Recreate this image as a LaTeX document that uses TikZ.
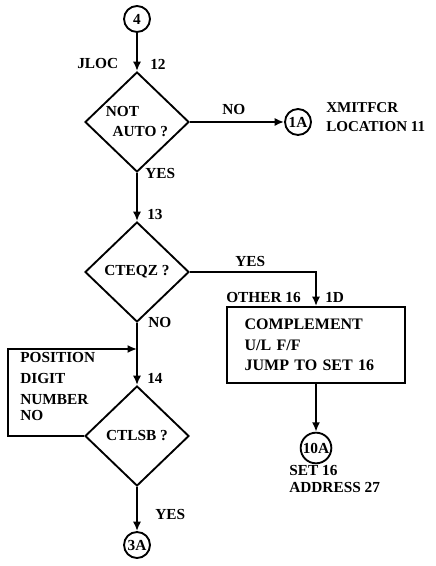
\documentclass[tikz,border=0pt]{standalone}
\usepackage{fontspec}
\setmainfont{Liberation Serif}
\usetikzlibrary{arrows.meta,shapes.geometric}

\begin{document}
\begin{tikzpicture}[
  x=0.75pt,y=-0.75pt,
  conn/.style={line width=1.4pt},
  arr/.style={conn,-{Latex[length=7pt,width=6pt]}},
  decision/.style={diamond,draw,line width=1.4pt,minimum width=78pt,minimum height=75pt,inner sep=0pt,align=left},
  onpage/.style={circle,draw,line width=1.4pt,minimum size=19.5pt,inner sep=0pt},
  process/.style={rectangle,draw,line width=1.4pt,inner xsep=13pt,text width=107pt,minimum height=57pt,align=left},
  lbl/.style={anchor=west,inner sep=0pt,align=left},
  font=\bfseries\fontsize{11.5}{15}\selectfont
]
\useasboundingbox (0,0) rectangle (435,566);
% blocks
\node[onpage] (c4) at (137,19) {4};
\node[decision] (d1) at (137,122) {NOT\\\hspace*{5pt}AUTO ?};
\node[onpage] (c1A) at (298,122) {1A};
\node[decision] (d2) at (137,272) {CTEQZ ?};
\node[process,font=\bfseries\fontsize{12}{15.5}\selectfont] (set16) at (316,345) {COMPLEMENT\\U/L F/F\\ JUMP TO SET 16};
\node[decision] (d3) at (137,436) {CTLSB ?};
\node[onpage] (c3A) at (137,545) {3A};
\node[onpage,minimum size=23pt] (c10A) at (316,448) {10A};
\coordinate (fbl) at (8,436);
\coordinate (fbt) at (8,349);
\coordinate (fbin) at (137,349);
% labels
\node[lbl] (jloc) at (77,64) {JLOC};
\node[lbl] (n12) at (150,64) {12};
\node[lbl] (no1) at (222,110) {NO};
\node[lbl,font=\bfseries\fontsize{11.3}{14}\selectfont] (xmit) at (326,117) {XMITFCR\\LOCATION 11};
\node[lbl] (yes1) at (145,174) {YES};
\node[lbl] (n13) at (147,214) {13};
\node[lbl] (yes2) at (235,261) {YES};
\node[lbl] (other) at (226,297) {OTHER 16};
\node[lbl] (n1D) at (325,297) {1D};
\node[lbl] (no2) at (148,322) {NO};
\node[lbl] (n14) at (147,378) {14};
\node[lbl,font=\bfseries\fontsize{11.5}{15.75}\selectfont] (posn) at (20,378) {POSITION\\DIGIT\\NUMBER};
\node[lbl] (no3) at (20,415) {NO};
\node[lbl] (yes3) at (155,514) {YES};
\node[lbl,font=\bfseries\fontsize{11.5}{13}\selectfont] (addr) at (289,479) {SET 16\\ADDRESS 27};
% connectors
\draw[arr] (c4) -- (d1.north);
\draw[arr] (d1.east) -- (c1A);
\draw[arr] (d1.south) -- (d2.north);
\draw[arr] (d2.east) -| (set16.north);
\draw[arr] (d2.south) -- (d3.north);
\draw[arr] (d3.west) -- (fbl) -- (fbt) -- (fbin);
\draw[arr] (d3.south) -- (c3A);
\draw[arr] (set16.south) -- (c10A);
\end{tikzpicture}
\end{document}
